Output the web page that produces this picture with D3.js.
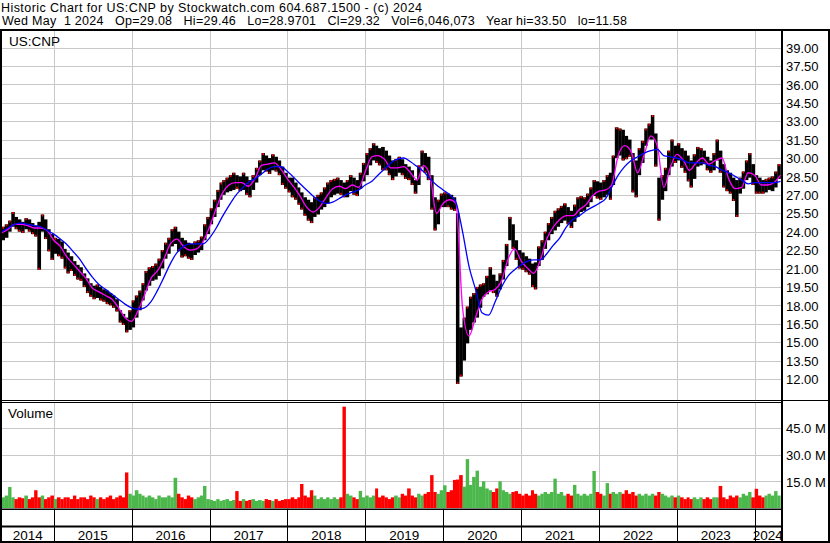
<!DOCTYPE html>
<html>
<head>
<meta charset="utf-8">
<script src="https://cdn.jsdelivr.net/npm/d3@7"></script>
<style>
  body { margin: 0; background: #fff; }
  text { font-family: "Liberation Sans", Arial, sans-serif; font-size: 13px; fill: #000; }
</style>
</head>
<body>
<div id="chart"></div>
<script>
// Chart data
// semi-monthly periods starting May 1 2014 (1st and 16th of each month), 240 periods
var priceHi = [
  24.4, 24.6, 24.9, 25.6, 25.2, 25.0, 24.8, 25.1, 25.0, 24.7,
  24.5, 24.8, 25.4, 25.0, 24.2, 23.8, 23.5, 23.4, 23.2, 22.6,
  22.3, 22.0, 21.6, 21.3, 21.1, 20.6, 20.2, 19.8, 19.6, 19.7,
  19.5, 19.3, 19.2, 19.0, 18.8, 18.5, 17.6, 17.3, 17.0, 17.6,
  18.4, 18.8, 19.2, 19.8, 20.8, 21.1, 21.2, 21.4, 21.8, 22.5,
  23.1, 23.5, 24.2, 24.4, 24.0, 23.5, 23.3, 23.1, 23.0, 23.2,
  23.3, 23.6, 24.6, 25.2, 25.9, 26.6, 27.4, 28.0, 28.2, 28.4,
  28.6, 28.8, 28.6, 28.5, 28.8, 28.5, 28.2, 28.6, 29.2, 29.8,
  30.4, 30.2, 30.0, 30.3, 30.1, 29.8, 29.3, 28.8, 28.4, 28.4,
  28.0, 27.6, 27.2, 26.8, 26.6, 26.4, 26.8, 27.0, 27.2, 27.6,
  28.0, 28.2, 28.3, 28.4, 28.2, 28.0, 28.2, 28.6, 28.4, 28.2,
  28.8, 29.6, 30.4, 30.8, 31.2, 31.0, 30.8, 30.9, 30.6, 30.2,
  29.8, 29.9, 30.1, 29.9, 29.5, 29.3, 29.0, 28.2, 29.4, 30.6,
  30.4, 30.1, 28.6, 26.8, 26.6, 27.1, 27.2, 27.1, 27.0, 26.8,
  25.5, 16.2, 17.0, 17.9, 18.7, 19.0, 19.5, 19.7, 19.8, 20.4,
  21.1, 20.5, 20.0, 20.6, 21.7, 23.0, 25.2, 24.6, 23.3, 22.5,
  22.3, 22.0, 21.8, 21.4, 21.5, 22.8, 23.3, 24.0, 24.7, 25.2,
  25.7, 25.9, 26.1, 26.3, 26.0, 25.7, 26.2, 26.8, 26.9, 26.8,
  27.1, 27.6, 28.2, 28.1, 28.0, 28.2, 28.6, 28.8, 30.2, 32.5,
  32.4, 32.3, 31.8, 31.5, 30.4, 29.8, 30.8, 31.4, 32.4, 32.8,
  33.5, 32.0, 28.4, 28.6, 29.2, 30.6, 31.5, 31.0, 31.2, 30.8,
  30.6, 30.2, 29.8, 30.3, 30.9, 30.8, 30.6, 30.1, 29.8, 30.4,
  31.5, 30.6, 29.5, 29.0, 28.8, 28.4, 28.2, 28.4, 28.9, 29.8,
  30.4, 29.5, 28.6, 28.4, 28.2, 28.3, 28.4, 28.5, 28.9, 29.5
];
var priceLo = [
  23.3, 23.5, 24.0, 24.4, 24.2, 24.0, 23.9, 24.2, 24.0, 23.8,
  23.6, 20.9, 24.0, 23.4, 22.4, 21.7, 22.2, 22.0, 21.8, 21.0,
  20.6, 20.8, 20.4, 20.1, 20.0, 19.5, 19.0, 18.7, 18.5, 18.6,
  18.4, 18.3, 18.1, 18.0, 17.8, 17.5, 16.6, 16.4, 15.8, 16.0,
  16.2, 17.0, 17.6, 18.4, 19.2, 19.6, 20.0, 20.1, 20.4, 21.0,
  21.8, 22.2, 22.8, 23.0, 22.4, 21.9, 22.0, 21.8, 21.7, 22.1,
  22.3, 22.5, 23.3, 23.8, 24.6, 25.2, 26.0, 26.6, 27.0, 27.2,
  27.3, 27.4, 27.5, 27.3, 27.4, 27.0, 26.8, 27.4, 28.0, 28.6,
  29.0, 28.9, 28.7, 29.0, 28.9, 28.6, 27.8, 27.5, 27.2, 26.8,
  26.6, 26.2, 25.8, 25.3, 24.9, 24.7, 25.2, 25.4, 25.8, 26.0,
  26.3, 26.8, 27.0, 27.1, 27.0, 26.8, 26.8, 27.3, 27.0, 26.9,
  27.5, 28.1, 28.6, 29.4, 29.8, 29.6, 29.4, 29.0, 29.0, 28.6,
  28.2, 28.5, 28.8, 28.6, 28.3, 28.2, 27.8, 27.1, 27.8, 29.3,
  28.8, 28.2, 25.8, 24.1, 24.6, 26.0, 26.0, 26.0, 25.8, 25.7,
  11.6, 12.2, 13.5, 14.9, 16.0, 16.6, 17.0, 17.8, 18.7, 18.9,
  19.2, 19.0, 18.7, 19.3, 20.1, 21.2, 23.3, 22.6, 21.7, 21.0,
  20.9, 20.7, 20.5, 19.5, 19.3, 21.2, 21.7, 22.6, 23.3, 23.8,
  24.1, 24.4, 24.7, 24.9, 24.6, 24.3, 24.8, 25.2, 25.6, 25.7,
  26.0, 26.4, 26.9, 26.7, 26.6, 26.8, 27.0, 26.6, 27.8, 30.0,
  30.2, 29.8, 29.9, 30.1, 27.2, 26.8, 28.6, 29.6, 31.0, 31.5,
  31.5, 29.3, 24.9, 26.6, 27.3, 28.6, 29.3, 29.6, 29.8, 29.2,
  28.8, 28.1, 27.6, 28.3, 29.3, 29.4, 29.5, 29.0, 28.8, 29.0,
  29.8, 28.8, 27.6, 27.3, 27.1, 26.5, 25.2, 27.1, 27.5, 28.2,
  28.4, 27.8, 27.1, 27.1, 27.1, 27.2, 27.4, 27.3, 27.6, 28.3
];
// volume in millions, same periods
var volume = [
  6, 7, 11.8, 6, 5, 6, 5.5, 7, 5, 6,
  10, 6, 7, 5, 6, 7, 5, 6, 5, 6,
  6, 5, 7, 5, 6, 6, 5, 7, 6, 5,
  6, 5, 6, 7, 5, 6, 7, 6, 20, 8,
  7, 10, 8, 7, 6, 7, 6, 5, 7, 6,
  6, 7, 6, 17, 8, 6, 5, 7, 6, 5,
  6, 7, 12.4, 5, 4.5, 4, 5, 4, 4.5, 5,
  4, 4.5, 9.5, 4, 5, 4, 4.5, 5, 4, 4.5,
  4, 5, 4.5, 4, 5, 4, 4.5, 5, 5, 6,
  5, 6, 13.5, 7, 6, 10, 7, 5, 6, 5,
  6, 5, 6, 5, 6, 57, 8, 7, 6, 5,
  9.6, 6, 7, 6, 7, 11, 6, 7, 6, 5,
  6, 7, 6, 8, 7, 11, 7, 6, 8, 7,
  8, 9, 18.5, 9, 8, 10, 12.8, 9, 10, 15.8,
  16, 18.5, 12, 27.5, 13, 17.5, 21, 12, 15, 11,
  10, 9, 11, 15, 10, 9, 8, 9, 9.5, 8,
  7, 8, 7, 10, 8, 7, 8, 9, 8, 9,
  16.5, 8, 9, 7, 8, 7, 13, 8, 7, 8,
  7, 8, 20.8, 9, 8, 7, 14, 8, 9, 8,
  9, 8, 10, 8, 9, 7, 8, 7, 8, 7,
  8, 7, 9, 8, 7, 6, 7, 6, 7, 6,
  5, 6, 5, 6, 5, 6, 5, 6, 5, 6,
  6, 12.4, 6, 5, 7, 6, 7, 6, 8, 7,
  9, 6, 10.8, 7, 6, 7, 8, 7, 9.5, 7
];
// moving averages, one value per month starting May 2014 (121 values)
var maShort = [
  23.9, 24.2, 24.6, 24.6, 24.5, 24.3, 24.3, 24.1, 23.3, 22.8,
  22.0, 21.4, 20.8, 20.2, 19.4, 19.1, 18.8, 18.5, 17.8, 17.0,
  16.7, 17.6, 18.8, 20.2, 20.8, 21.8, 23.0, 23.4, 22.8, 22.5,
  22.6, 23.2, 24.4, 25.9, 27.1, 27.8, 28.0, 28.0, 27.7, 28.3,
  29.4, 29.5, 29.6, 29.1, 28.3, 27.6, 26.9, 26.0, 25.6, 26.0,
  26.8, 27.5, 27.7, 27.5, 27.8, 27.6, 28.9, 30.1, 30.2, 29.9,
  29.2, 29.2, 29.3, 28.8, 28.2, 29.4, 28.5, 25.5, 26.3, 26.6,
  26.3, 17.8, 15.5, 17.0, 18.5, 19.1, 19.3, 20.0, 21.8, 22.6,
  21.6, 21.0, 20.6, 21.7, 23.4, 24.4, 25.0, 25.3, 25.3, 25.8,
  26.2, 26.9, 27.3, 27.4, 27.8, 30.2, 31.0, 30.5, 28.8, 30.3,
  31.8, 31.0, 27.6, 29.2, 30.3, 29.8, 29.0, 29.6, 30.0, 29.5,
  29.8, 30.0, 28.3, 27.5, 27.6, 28.8, 28.6, 27.8, 27.8, 28.0,
  28.6
];
var maLong = [
  24.0, 24.3, 24.6, 24.7, 24.6, 24.5, 24.4, 24.1, 23.8, 23.4,
  23.0, 22.4, 21.8, 21.0, 20.3, 19.7, 19.3, 18.9, 18.5, 18.1,
  17.8, 17.7, 17.8, 18.3, 19.2, 20.3, 21.4, 22.3, 22.8, 23.0,
  23.0, 23.0, 23.5, 24.3, 25.2, 26.1, 26.9, 27.5, 28.0, 28.3,
  28.7, 29.1, 29.3, 29.3, 28.9, 28.4, 27.9, 27.4, 26.9, 26.5,
  26.3, 26.4, 26.7, 27.0, 27.2, 27.4, 27.8, 28.1, 28.6, 29.1,
  29.6, 29.9, 30.0, 29.7, 29.3, 28.9, 28.3, 27.8, 27.4, 27.0,
  26.4, 24.0, 21.2, 19.3, 17.4, 17.2, 18.3, 19.5, 20.4, 20.9,
  21.3, 21.6, 21.7, 21.7, 22.2, 22.9, 23.5, 24.4, 25.0, 25.3,
  25.7, 26.0, 26.3, 26.7, 27.6, 28.6, 29.3, 29.8, 30.1, 30.4,
  30.6, 30.7, 30.2, 30.1, 30.0, 29.8, 29.6, 29.6, 29.6, 29.4,
  29.3, 29.0, 28.8, 28.5, 28.2, 27.9, 28.0, 28.0, 28.0, 28.0,
  28.1
];
var priceTicks = [12, 13.5, 15, 16.5, 18, 19.5, 21, 22.5, 24, 25.5, 27, 28.5, 30, 31.5, 33, 34.5, 36, 37.5, 39];
var volumeTicks = [15, 30, 45];
var yearLabels = [2014, 2015, 2016, 2017, 2018, 2019, 2020, 2021, 2022, 2023, 2024];
var headerLines = [
  "Historic Chart for US:CNP by Stockwatch.com 604.687.1500 - (c) 2024",
  "Wed May  1 2024   Op=29.08   Hi=29.46   Lo=28.9701   Cl=29.32   Vol=6,046,073   Year hi=33.50   lo=11.58"
];

// layout
var svgWidth = 830;
var svgHeight = 543;
var plotLeft = 2, plotRight = 781;
var priceTop = 31, priceBottom = 400;
var volTop = 403, volBottom = 509;

var svg = d3.select("#chart")
    .append("svg")
    .attr("width", svgWidth)
    .attr("height", svgHeight)
    .style("display", "block");

function periodStart(i) {
    return new Date(2014, 4 + Math.floor(i / 2), i % 2 ? 16 : 1);
}
function monthStart(m) {
    return new Date(2014, 4 + m, 1);
}

var xScale = d3.scaleTime()
    .domain([new Date(2014, 4, 1), new Date(2024, 4, 1)])
    .range([1.5, 780.5]);
var yPrice = d3.scaleLinear().domain([12, 39]).range([379, 47.5]);
var yVol = d3.scaleLinear().domain([0, 45]).range([508, 428]);

var yearBounds = d3.range(2015, 2025).map(y => new Date(y, 0, 1));

// clip paths
var defs = svg.append("defs");
defs.append("clipPath").attr("id", "clipPrice").append("rect")
    .attr("x", plotLeft).attr("y", priceTop)
    .attr("width", plotRight - plotLeft).attr("height", priceBottom - priceTop);
defs.append("clipPath").attr("id", "clipVol").append("rect")
    .attr("x", plotLeft).attr("y", volTop)
    .attr("width", plotRight - plotLeft).attr("height", volBottom - volTop);

// header
var headerWidths = [421, 625];
svg.selectAll(".header")
    .data(headerLines)
    .enter()
    .append("text")
    .attr("class", "header")
    .attr("x", (d, i) => i ? 2 : 1)
    .attr("y", (d, i) => i ? 25.4 : 11.5)
    .attr("xml:space", "preserve")
    .attr("textLength", (d, i) => headerWidths[i])
    .attr("lengthAdjust", "spacing")
    .style("white-space", "pre")
    .style("font-size", "12.5px")
    .text(d => d);

// grid - price panel
var gridColor = "#c8c8c8";
var priceGroup = svg.append("g").attr("clip-path", "url(#clipPrice)");
priceGroup.selectAll(".hgrid")
    .data(priceTicks)
    .enter()
    .append("line")
    .attr("x1", plotLeft).attr("x2", plotRight)
    .attr("y1", d => Math.round(yPrice(d)) + 0.5)
    .attr("y2", d => Math.round(yPrice(d)) + 0.5)
    .attr("stroke", gridColor);
priceGroup.selectAll(".vgrid")
    .data(yearBounds)
    .enter()
    .append("line")
    .attr("x1", d => Math.round(xScale(d)) + 0.5)
    .attr("x2", d => Math.round(xScale(d)) + 0.5)
    .attr("y1", priceTop).attr("y2", priceBottom)
    .attr("stroke", gridColor);

// price bars (high-low)
var periods = d3.range(priceHi.length);
priceGroup.append("g").selectAll("rect")
    .data(periods)
    .enter()
    .append("rect")
    .attr("x", i => xScale(periodStart(i)))
    .attr("width", i => xScale(periodStart(i + 1)) - xScale(periodStart(i)) + 0.3)
    .attr("y", i => yPrice(priceHi[i]))
    .attr("height", i => Math.max(1, yPrice(priceLo[i]) - yPrice(priceHi[i])))
    .attr("fill", "#000");

// red end ticks: at the high when the period moved up, at the low when it moved down
function isUp(i) {
    if (i === 0) return true;
    return priceHi[i] + priceLo[i] >= priceHi[i - 1] + priceLo[i - 1];
}
priceGroup.append("g").selectAll("rect")
    .data(periods)
    .enter()
    .append("rect")
    .attr("x", i => xScale(periodStart(i)) + 1)
    .attr("width", 1.5)
    .attr("y", i => isUp(i) ? yPrice(priceHi[i]) : yPrice(priceLo[i]) - 2)
    .attr("height", 2)
    .attr("fill", "#ff0000");

// moving averages
var months = d3.range(maShort.length);
var maLine = function (arr) {
    return d3.line()
        .x(m => xScale(monthStart(m)))
        .y(m => yPrice(arr[m]))
        .curve(d3.curveMonotoneX);
};
priceGroup.append("path")
    .datum(months)
    .attr("d", maLine(maShort))
    .attr("fill", "none")
    .attr("stroke", "#ff00ff")
    .attr("stroke-width", 1.3);
priceGroup.append("path")
    .datum(months)
    .attr("d", maLine(maLong))
    .attr("fill", "none")
    .attr("stroke", "#0000ff")
    .attr("stroke-width", 1.3);

svg.append("text")
    .attr("x", 9)
    .attr("y", 45.5)
    .style("font-size", "13.5px")
    .text("US:CNP");

// volume panel
var volGroup = svg.append("g").attr("clip-path", "url(#clipVol)");
volGroup.selectAll(".hgrid")
    .data(volumeTicks)
    .enter()
    .append("line")
    .attr("x1", plotLeft).attr("x2", plotRight)
    .attr("y1", d => Math.round(yVol(d)) + 0.5)
    .attr("y2", d => Math.round(yVol(d)) + 0.5)
    .attr("stroke", gridColor);
volGroup.selectAll(".vgrid")
    .data(yearBounds)
    .enter()
    .append("line")
    .attr("x1", d => Math.round(xScale(d)) + 0.5)
    .attr("x2", d => Math.round(xScale(d)) + 0.5)
    .attr("y1", volTop).attr("y2", volBottom)
    .attr("stroke", gridColor);

volGroup.append("g").selectAll("rect")
    .data(periods)
    .enter()
    .append("rect")
    .attr("x", i => xScale(periodStart(i)))
    .attr("width", i => xScale(periodStart(i + 1)) - xScale(periodStart(i)) + 0.2)
    .attr("y", i => yVol(volume[i]))
    .attr("height", i => yVol(0) - yVol(volume[i]))
    .attr("fill", i => isUp(i) ? "#4cb84c" : "#ff0000");

svg.append("text")
    .attr("x", 8)
    .attr("y", 418)
    .style("font-size", "13.5px")
    .text("Volume");

// right axes
var priceAxis = d3.axisRight(yPrice)
    .tickValues(priceTicks)
    .tickSize(0)
    .tickPadding(0)
    .tickFormat(d3.format(".2f"));
var priceAxisG = svg.append("g")
    .attr("transform", "translate(786, 0.5)")
    .call(priceAxis);
priceAxisG.select(".domain").remove();

var volAxis = d3.axisRight(yVol)
    .tickValues(volumeTicks)
    .tickSize(0)
    .tickPadding(0)
    .tickFormat(d => d3.format(".1f")(d) + " M");
var volAxisG = svg.append("g")
    .attr("transform", "translate(786, 0.5)")
    .call(volAxis);
volAxisG.select(".domain").remove();

svg.selectAll(".tick text")
    .attr("fill", "#000")
    .style("font-family", "'Liberation Sans', Arial, sans-serif")
    .style("font-size", "13px");

// date axis rows
var dateRow = svg.append("g");
dateRow.selectAll(".sep")
    .data(yearBounds)
    .enter()
    .append("line")
    .attr("x1", d => Math.round(xScale(d)) + 0.5)
    .attr("x2", d => Math.round(xScale(d)) + 0.5)
    .attr("y1", volBottom).attr("y2", 541)
    .attr("stroke", "#000");

var cellEdges = [plotLeft].concat(yearBounds.map(d => xScale(d)), [plotRight]);
dateRow.selectAll("text")
    .data(yearLabels)
    .enter()
    .append("text")
    .attr("x", (d, i) => (cellEdges[i] + cellEdges[i + 1]) / 2)
    .attr("y", 539.5)
    .attr("text-anchor", "middle")
    .style("font-size", "13.5px")
    .text(d => d);

// frame lines
var frame = svg.append("g").attr("fill", "#000");
frame.append("rect").attr("x", 0).attr("y", 29).attr("width", 830).attr("height", 2);
frame.append("rect").attr("x", 0).attr("y", 29).attr("width", 2).attr("height", 514);
frame.append("rect").attr("x", 828).attr("y", 29).attr("width", 2).attr("height", 514);
frame.append("rect").attr("x", 781).attr("y", 29).attr("width", 2).attr("height", 514);
frame.append("rect").attr("x", 0).attr("y", 400).attr("width", 830).attr("height", 1);
frame.append("rect").attr("x", 0).attr("y", 402).attr("width", 782).attr("height", 1);
frame.append("rect").attr("x", 0).attr("y", 508.5).attr("width", 782).attr("height", 1.5);
frame.append("rect").attr("x", 0).attr("y", 525.5).attr("width", 782).attr("height", 2);
frame.append("rect").attr("x", 0).attr("y", 541).attr("width", 830).attr("height", 2);
</script>
</body>
</html>
